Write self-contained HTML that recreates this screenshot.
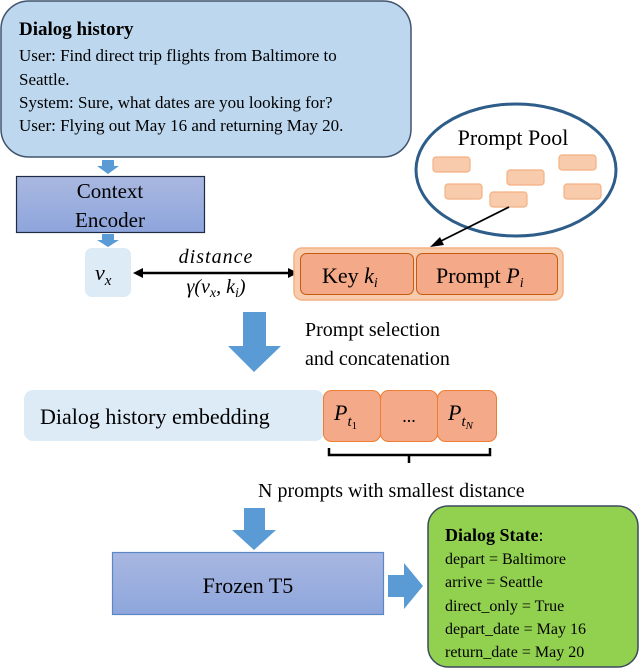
<!DOCTYPE html>
<html><head><meta charset="utf-8"><style>
html,body{margin:0;padding:0;background:#fff}
svg{display:block}
text{font-family:"Liberation Serif",serif;fill:#000}
</style></head><body>
<svg width="640" height="670" viewBox="0 0 640 670" xmlns="http://www.w3.org/2000/svg">
<defs>
<linearGradient id="enc" x1="0" y1="0" x2="0" y2="1"><stop offset="0" stop-color="#a9b8e0"/><stop offset="1" stop-color="#8ea5dc"/></linearGradient>
<linearGradient id="t5" x1="0" y1="0" x2="0" y2="1"><stop offset="0" stop-color="#a8b7e1"/><stop offset="1" stop-color="#8ea6dc"/></linearGradient>
</defs>
<!-- Dialog history box -->
<rect x="1" y="1" width="410" height="156" rx="28" fill="#bdd7ee" stroke="#41546e" stroke-width="1.5"/>
<text x="19" y="35" font-size="19" font-weight="bold">Dialog history</text>
<text x="19" y="61" font-size="17">User: Find direct trip flights from Baltimore to</text>
<text x="19" y="85" font-size="17">Seattle.</text>
<text x="19" y="108" font-size="17">System: Sure, what dates are you looking for?</text>
<text x="19" y="131" font-size="17">User: Flying out May 16 and returning May 20.</text>
<!-- small arrows -->
<polygon points="102,160 114,160 114,166 119,166 108,174 97,166 102,166" fill="#5b9bd5"/>
<polygon points="102,234 114,234 114,240 119,240 108,247 97,240 102,240" fill="#5b9bd5"/>
<!-- Context encoder -->
<rect x="16.5" y="176.5" width="188" height="56" fill="url(#enc)" stroke="#1f2a44" stroke-width="1.2"/>
<text x="110" y="198" font-size="21" text-anchor="middle">Context</text>
<text x="110" y="227" font-size="21" text-anchor="middle">Encoder</text>
<!-- vx -->
<rect x="85" y="248" width="46" height="49" rx="7" fill="#ddebf7"/>
<text x="95" y="280" font-size="22" font-style="italic">v<tspan font-size="15" dy="5">x</tspan></text>
<!-- distance -->
<text x="216" y="263" font-size="20" font-style="italic" text-anchor="middle" letter-spacing="1">distance</text>
<text x="216" y="293" font-size="20" font-style="italic" text-anchor="middle">γ(v<tspan font-size="14" dy="4">x</tspan><tspan dy="-4">, k</tspan><tspan font-size="14" dy="4">i</tspan><tspan dy="-4">)</tspan></text>
<line x1="140" y1="273" x2="290" y2="273" stroke="#000" stroke-width="2.5"/>
<polygon points="133,273 143,268 143,278" fill="#000"/>
<polygon points="298,273 288,268 288,278" fill="#000"/>
<!-- Key/prompt -->
<rect x="294" y="248" width="269" height="52" rx="8" fill="#f9cbad" stroke="#f4b183" stroke-width="1.5"/>
<rect x="300.5" y="253.5" width="113" height="41" rx="6" fill="#f4a988" stroke="#c55a11" stroke-width="1"/>
<rect x="416.5" y="253.5" width="141" height="41" rx="6" fill="#f4a988" stroke="#c55a11" stroke-width="1"/>
<text x="322" y="283" font-size="22">Key <tspan font-style="italic">k</tspan><tspan font-size="14" font-style="italic" dy="4">i</tspan></text>
<text x="436" y="283" font-size="22">Prompt <tspan font-style="italic">P</tspan><tspan font-size="14" font-style="italic" dy="4">i</tspan></text>
<!-- Prompt pool -->
<ellipse cx="516" cy="170" rx="100" ry="66" fill="#fff" stroke="#2e5d8a" stroke-width="3"/>
<text x="513" y="145" font-size="22" text-anchor="middle">Prompt Pool</text>
<g fill="#f8cbad" stroke="#f4b183" stroke-width="1.2">
<rect x="433" y="157" width="37" height="15" rx="3"/>
<rect x="445" y="184" width="37" height="15" rx="3"/>
<rect x="490" y="192" width="37" height="15" rx="3"/>
<rect x="507" y="170" width="37" height="15" rx="3"/>
<rect x="559" y="155" width="37" height="15" rx="3"/>
<rect x="564" y="184" width="37" height="15" rx="3"/>
</g>
<line x1="509" y1="207" x2="437" y2="243" stroke="#000" stroke-width="1.8"/>
<polygon points="430,247 440,237 444,245" fill="#000"/>
<!-- Big arrow 1 -->
<polygon points="243,312 266,312 266,346 281,346 254,372 228,346 243,346" fill="#5b9bd5"/>
<text x="305" y="336" font-size="20">Prompt selection</text>
<text x="305" y="365" font-size="20">and concatenation</text>
<!-- embedding -->
<rect x="24" y="390" width="300" height="51" rx="9" fill="#ddebf7"/>
<text x="40" y="424" font-size="22">Dialog history embedding</text>
<g fill="#f4a988" stroke="#ed7d31" stroke-width="1">
<rect x="323.5" y="390.5" width="57" height="51" rx="8"/>
<rect x="380.5" y="390.5" width="57" height="51" rx="8"/>
<rect x="437.5" y="390.5" width="59" height="51" rx="8"/>
</g>
<text x="334" y="420" font-size="22" font-style="italic">P<tspan font-size="15" dy="6">t</tspan><tspan font-size="11" font-style="normal" dy="3">1</tspan></text>
<text x="409" y="422" font-size="18" text-anchor="middle">...</text>
<text x="448" y="420" font-size="22" font-style="italic">P<tspan font-size="15" dy="6">t</tspan><tspan font-size="11" dy="3">N</tspan></text>
<!-- brace -->
<path d="M329,448 L329,455 L490,455 L490,448 M409,455 L409,463" fill="none" stroke="#000" stroke-width="2.5"/>
<text x="258" y="497" font-size="20">N prompts with smallest distance</text>
<!-- Big arrow 2 -->
<polygon points="244,508 265,508 265,530 276,530 254,550 232,530 244,530" fill="#5b9bd5"/>
<!-- Frozen T5 -->
<rect x="112.5" y="552.5" width="271" height="62" fill="url(#t5)" stroke="#5b87c7" stroke-width="1.2"/>
<text x="248" y="593" font-size="22" text-anchor="middle">Frozen T5</text>
<polygon points="388,575 404,575 404,563 423,586 404,609 404,597 388,597" fill="#5b9bd5"/>
<!-- Dialog state -->
<rect x="428" y="506" width="210" height="161" rx="20" fill="#92d050" stroke="#3b4a5c" stroke-width="1.5"/>
<text x="445" y="541" font-size="18" font-weight="bold">Dialog State<tspan font-weight="normal">:</tspan></text>
<text x="445" y="564" font-size="16">depart = Baltimore</text>
<text x="445" y="587" font-size="16">arrive = Seattle</text>
<text x="445" y="611" font-size="16">direct_only = True</text>
<text x="445" y="634" font-size="16">depart_date = May 16</text>
<text x="445" y="657" font-size="16">return_date = May 20</text>
</svg>
</body></html>
